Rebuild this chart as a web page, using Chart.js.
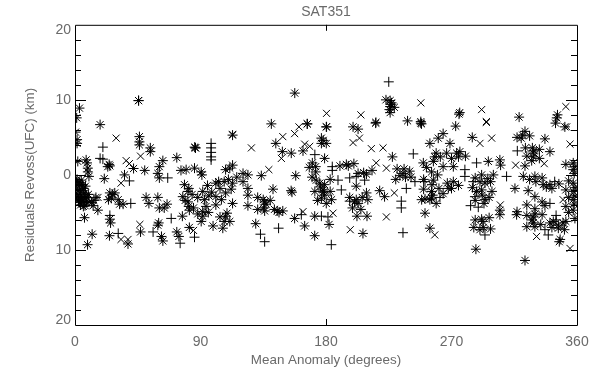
<!DOCTYPE html>
<html>
<head>
<meta charset="utf-8">
<script src="https://cdn.jsdelivr.net/npm/chart.js@4/dist/chart.umd.min.js"></script>
<style>
html, body { margin: 0; padding: 0; background: #fff; }
#wrap { position: relative; width: 600px; height: 376px; }
</style>
</head>
<body>
<div id="wrap"><canvas id="residualChart" width="600" height="376"></canvas></div>
<script>
const chartTitle = "SAT351";
const xTitle = "Mean Anomaly (degrees)";
const yTitle = "Residuals Revoss(UFC) (km)";

const xTickValues = [0, 90, 180, 270, 360];
const xMarkValues = [180];
// the two outer labels sit a little inside the frame
const yTickValues = [19.3, 10, 0, -10, -19.4];
const yTickLabels = ["20", "10", "0", "10", "20"];
const yMinorValues = [18, 16, 14, 12, 8, 6, 4, 2, -2, -4, -6, -8, -12, -14, -16, -18];
const yMajorValues = [10, 0, -10];

// [mean anomaly, residual]
const starPoints = [
  [3.2,8.9],[45.6,9.9],[45.6,9.9],[1.2,7.6],[0.4,5.7],[1.5,4.7],[1.5,4.2],[18,6.7],[46.2,5.1],[46.2,4.4],[46.2,4],
  [113,5.3],[86.4,3.6],[86.4,3.6],[85.8,3.7],[54,3.6],[54,3.1],[73,2.3],[63,1.9],[42,0.85],[50,0.6],[8,2],[8.6,1.6],
  [9.2,0.9],[9.2,0.4],[10,-0.2],[2,1.8],[23.5,1.1],[25,1.2],[35.5,0],[21,-0.5],[60.5,1.1],[59.4,0.2],[60.5,-0.4],
  [76,0.6],[79.7,0.7],[85.7,0.9],[91,0],[90.5,0.4],[78.5,-1.3],[81.6,-1.8],[81,-2.2],[77.3,-2.9],[81,-3.6],[81.6,-4.2],
  [82,-4.7],[91.6,-2.2],[92.8,-3.3],[94,-4.2],[91.6,-4.9],[91.6,-5.5],[90.5,-6.2],[101,-1.1],[103,-0.9],[107,-0.9],
  [113,-1.1],[110,-0.6],[108,0.7],[113,1.3],[111,0.9],[101,-2.9],[101,-4],[108,-2.4],[113,-3.8],[108,-5.5],[107,-6.2],
  [106,-7.1],[99,-6.8],[109,-5.1],[1.5,-0.6],[3,-1],[4.5,-0.7],[2,-1.4],[5.5,-1.3],[7.5,-1.5],[3,-2],[5,-2.1],[7,-2.4],
  [1.5,-2.6],[4,-2.9],[6,-3],[8.5,-3],[2.5,-3.4],[5,-3.5],[7,-3.6],[4,-4],[6,-4.2],[10,-3.6],[13.5,-3.4],[13,-4.1],
  [16.4,-4.7],[6.8,-5.7],[25,-2.4],[26,-3.1],[28.5,-2.4],[32,-3.9],[34.5,-3.9],[24,-3.3],[51,-3],[53,-3.8],[59.4,-3],
  [60.5,-4.4],[64,-4.4],[66,-3.9],[25,-5.9],[25.5,-6.4],[47,-7.6],[12.3,-7.9],[24.7,-8.1],[38,-9.2],[9,-9.3],[59.4,-6.7],
  [60,-6.4],[62,-8.2],[63,-8.8],[77,-5.5],[82,-7],[73,-7.6],[74.5,-8.2],
  [140.8,6.8],[166.6,6.8],[180.2,6.4],[176.7,4.9],[176.7,4.2],[178,4.6],[180.2,4.2],[144,4.2],[215.6,6.9],[199.4,6.4],
  [203,6.1],[148.7,3.1],[155.1,2.9],[163.5,3.2],[179,2.2],[227.6,2.4],[172.6,1.1],[172.6,0.4],[170.2,1.6],[194.6,1.4],
  [196,1.2],[207,0.3],[209,0.1],[158.3,-0.1],[133.6,-0.1],[120.5,0.2],[124,0],[235.2,0.2],[237,-0.3],[233,-0.1],[236,0.8],
  [173,-0.7],[175.5,-1.1],[179,-1.3],[177.8,-2],[179,-2.7],[176.7,-3.1],[180.2,-3.8],[176,-1.6],[178,-2.3],[201.7,-1.5],
  [209,-2.4],[201.7,-3.3],[203,-3.8],[200.5,-3.6],[210,-3.3],[142,-1.9],[155,-2.1],[155.6,-2.3],[218.5,-2.1],[222,-2.9],
  [120.5,-0.9],[124,-1.8],[124,-2.7],[124,-4.1],[136,-3.6],[135,-3.3],[137,-3.9],[135.3,-4.4],[136,-4.8],[143,-4.6],
  [146.3,-5],[145,-4.8],[157.5,-5.8],[171.9,-5.5],[202.2,-5.5],[209.4,-5.5],[129.6,-6.5],[164.7,-6.8],[182.2,-6.6],
  [171.9,-8.1],[206.5,-7.8],
  [157.6,10.9],[226,9.9],[226.5,9.4],[226,9.1],[225.5,8.7],[226,8.3],[227,9.6],[275.4,8.1],[275.9,8.3],[345.5,7.6],
  [346,8],[318.5,7.7],[248,7.1],[248.5,6.8],[238.5,7.2],[215.8,7],[166.5,6.8],[180.4,6.4],
  [248,6.9],[273,6.5],[344.6,6.9],[351.3,6.4],[254.5,4.2],[260.5,4.9],[264,5.5],[268.9,4.2],[284.9,5],[321,5.3],[322.7,5.8],
  [320,4.9],[337,4.8],[276,3.1],[273.7,2.9],[275,2.4],[266.5,2.9],[258,2.4],[257,1.8],[259,2.9],[249.8,1.6],[270,2.2],
  [271.3,1.1],[264,1.1],[328,3.6],[328.6,2.9],[328.6,2.4],[329,3.2],[327.5,1.9],[340.6,3.1],[296.4,1.8],[304.7,2],[305.2,1.3],
  [322.7,1.2],[357.3,1.6],[357.3,0.7],[358.5,1.1],[358,0.2],[255.7,0.4],[257,-0.7],[256,-1.3],[321.5,-0.2],[291.6,0],[296,-0.5],
  [300,0],[290.4,-0.9],[294,-1.1],[329.8,-0.2],[330.5,-0.9],[335.8,-1.3],[338,-1.6],[340.6,-1.3],[270,-1.8],[271.3,-0.9],
  [267.7,-1.8],[255.7,-2.2],[255.7,-3.1],[254.5,-3.3],[256.5,-2.7],[248.6,-3.3],[288,-2.2],[291.6,-2],[294,-3.3],[293.3,-3.8],
  [292,-2.7],[315.5,-1.8],[325,-2.1],[329.8,-2.9],[357.3,-1.1],[357.3,-2.2],[357.3,-3.3],[358.5,-1.7],[358.5,-2.8],[358,-3.9],
  [304.7,-4.7],[304.7,-5.3],[316.7,-5.3],[317,-4.9],[337,-4.1],[329.8,-4.5],[328.6,-5.6],[328.6,-6.4],[329.8,-6.9],[330,-5.2],
  [327.8,-6],[251,-5.1],[254.5,-7.1],[291.6,-5.9],[292.5,-6.2],[292.8,-7],[290.4,-7.3],[340.6,-6.4],[346.6,-6.7],[346.6,-7.1],
  [347.3,-8.9],[347.9,-8.6],[287.5,-9.9],[322.7,-11.4],[357.3,-4.7],[358.5,-5.8]
];
// heavy clumps where the marks run together
const clumpPoints = [
  [1,-0.9],[3.6,-1.3],[6.2,-1.8],[0.8,-1.9],[3.8,-2.4],[7.8,-2.9],[1.2,-3],[4.6,-3.2],[8.2,-3.6],[3.4,-3.7],[7.2,-4.1],[9.6,-2.6],
  [12,-3.7],[15,-3],[24.5,1.4],[27,-2.6],[31,-3.3],
  [84,-2.6],[79,-3.4],[85,-4.4],[88,-3],[95,-1.4],[96,-2.8],[88,-5.2],[95.6,-5],[104,-1.8],[98,-2.3],[116,-0.3],[105,-3.3],[112,-1.9],
  [104,-5.6],[111,-6.2],
  [170,-0.3],[183,-0.6],[172,-2.2],[183,-2.2],[174,-3.4],[184,-3.3],[168,1],[190,1.2],[200,1.5],[213,0.6],[203,0.2],[197,-3],[206,-3],
  [199,-4.4],[205,-4.6],[131,-3],[140,-3.4],[131,-4.6],[149,-4.8],[231,0.8],[240,0.5],[230,-0.6],[241,-0.3],[223,10],[229,9],
  [262,2.4],[252,1],[250,-0.6],[260,0],[261,-1.8],[250,-1.9],[259,-3.8],[251,-3.2],[267,-1.1],[275,-1.4],[264,-2.5],[280,2.5],
  [287,-0.4],[298,-0.9],[285,-1.7],[299,-2.2],[287,-3.4],[297,-3],[287,-6],[297,-5.7],[286,-7],[298,-7.2],[317,5],[326,5.2],
  [323,3.6],[333,3.4],[324,2.5],[333,2.2],[326,-0.6],[335,-0.4],[342,-1.8],[347,-1.2],[324,-4],[335,-3.6],[324,-5.4],[335,-5.3],[324,-6.9],[334,-6.6],
  [343,-6.2],[350,-6.4],[342,-7],[351,-7.3],[352,1.4],[354,-0.8],[352,-2],[354,-3],[352,-4.2],[354,-5],[352,-6.2]
];
const crossPoints = [
  [97.6,4.2],[97.6,3.6],[97.6,3],[97.6,2.4],[97.6,2],[20,3.7],[18,2.2],[20,2.1],[39,-0.8],[25,-5.4],[31,-7.8],[66.5,-0.4],
  [69,-5.8],[85.7,-8.3],[75.4,-9.1],[56,-7.6],[40,-3.8],[225,12.4],[184.5,1.1],[184.5,0.6],[188.6,-0.7],[197,-0.4],[201.7,-0.2],
  [207.7,-0.7],[191,-2],[197,-3.5],[234,-3.5],[234,-4.4],[237.6,-1.8],[146,-7.1],[133,-7.9],[183.8,-9.3],[136,-8.9],[162.3,-5.3],
  [176.7,-5.5],[181.4,-5.6],[235.2,-7.7],[172,2.7],[317.2,3.2],[288,1.6],[279.6,0.7],[279.6,-0.2],[243.8,-0.9],[251,-0.9],
  [261.7,-3],[285.6,-0.9],[286.8,-2.9],[283.7,-4.1],[289.2,-4.3],[345,-5.4],[345,-6],[339.4,-8],[337,-7.3],[294,-8],[309.5,-0.2],
  [242.6,2.8],[340.6,-3.8],[344,-0.9]
];
const xMarkPoints = [
  [29.5,4.9],[113,5.4],[47,2.5],[36.7,1.9],[39,1.5],[33,-1.1],[46.5,-6.6],[38,-8.6],[33,-8.6],[85,-7.4],[149,5.1],[157.5,5.5],
  [160.6,6.4],[126.5,3.6],[164.7,4.1],[168.3,3.8],[204,4.9],[199.4,4.3],[212.5,3.5],[220.9,3.6],[148,2.2],[216,1.6],[223.3,0.9],
  [139,0.7],[229,-2.4],[163.5,-4.9],[185,-5.1],[223.3,-5.6],[197.4,-7.3],[248,9.6],[291.6,8.7],[352,9.1],[295,7.1],[180.4,8.2],
  [205,8],[352.6,6.4],[295,7],[298.8,4.9],[290.4,4.2],[355,4.1],[316,1.3],[336.5,1.5],[350,-3.3],[331,-8.2],[258,-8],[355,-9.8],
  [16.5,-3],[305,-4]
];

const toXY = (p) => ({ x: p[0], y: p[1] });

const idlFrame = {
  id: "idlFrame",
  afterDatasetsDraw(chart) {
    const { ctx, chartArea: a, scales } = chart;
    const yTick = (v, len) => {
      const py = Math.round(scales.y.getPixelForValue(v)) + 0.5;
      ctx.moveTo(a.left, py); ctx.lineTo(a.left + len, py);
      ctx.moveTo(a.right, py); ctx.lineTo(a.right - len, py);
    };
    ctx.save();
    ctx.strokeStyle = "#000";
    ctx.lineWidth = 1;
    ctx.beginPath();
    ctx.rect(a.left + 0.5, a.top + 0.5, a.right - a.left, a.bottom - a.top);
    yMinorValues.forEach((v) => yTick(v, 6));
    yMajorValues.forEach((v) => yTick(v, 11));
    xMarkValues.forEach((v) => {
      const px = Math.round(scales.x.getPixelForValue(v)) + 0.5;
      ctx.moveTo(px, a.top); ctx.lineTo(px, a.top + 6);
      ctx.moveTo(px, a.bottom); ctx.lineTo(px, a.bottom - 6);
    });
    ctx.stroke();
    ctx.restore();
  },
};

const textFont = { family: "'Liberation Sans', sans-serif", size: 14 };
const titleFont = { family: "'Liberation Sans', sans-serif", size: 13.4 };
const textColor = "#6a6a6a";

const makeSet = (points, style) => ({
  data: points.map(toXY),
  pointStyle: style,
  pointRadius: 5,
  pointBorderWidth: 1,
  pointBorderColor: "#000",
  pointBackgroundColor: "#000",
  showLine: false,
});

new Chart(document.getElementById("residualChart").getContext("2d"), {
  type: "scatter",
  data: {
    datasets: [
      makeSet(starPoints, "star"),
      makeSet(clumpPoints, "star"),
      makeSet(crossPoints, "cross"),
      makeSet(xMarkPoints, "crossRot"),
    ],
  },
  plugins: [idlFrame],
  options: {
    responsive: false,
    animation: false,
    events: [],
    layout: { padding: { left: 22, right: 23, top: 0, bottom: 8 } },
    plugins: {
      legend: { display: false },
      tooltip: { enabled: false },
      title: {
        display: true,
        text: chartTitle,
        fullSize: false,
        font: { ...textFont, weight: "normal" },
        color: textColor,
        padding: { top: 4, bottom: 4 },
      },
    },
    scales: {
      x: {
        type: "linear",
        min: 0,
        max: 360,
        afterBuildTicks: (s) => { s.ticks = xTickValues.map((v) => ({ value: v })); },
        afterFit: (s) => { s.height = 43; },
        grid: { display: false, drawTicks: false },
        border: { display: false },
        ticks: { font: textFont, color: textColor, padding: 9, maxRotation: 0, autoSkip: false },
        title: { display: true, text: xTitle, font: titleFont, color: textColor, padding: { top: 1, bottom: 0 } },
      },
      y: {
        type: "linear",
        min: -20,
        max: 20,
        afterBuildTicks: (s) => { s.ticks = yTickValues.map((v) => ({ value: v })); },
        afterFit: (s) => { s.width = 53; },
        grid: { display: false, drawTicks: false },
        border: { display: false },
        ticks: {
          font: textFont,
          color: textColor,
          padding: 4,
          autoSkip: false,
          callback: (v, i) => yTickLabels[i],
        },
        title: { display: true, text: yTitle, font: titleFont, color: textColor, padding: 0 },
      },
    },
  },
});
</script>
</body>
</html>
